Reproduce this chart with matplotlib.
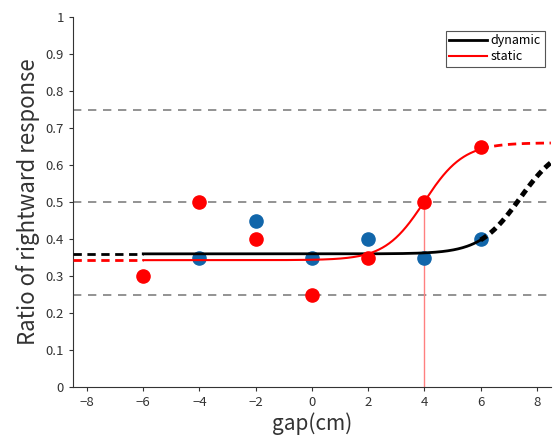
import numpy as np
import matplotlib.pyplot as plt

plt.rcParams['font.family'] = ['Noto Sans CJK JP', 'DejaVu Sans']

# measured points
gap_dyn = [-4, -2, 0, 2, 4, 6]
ratio_dyn = [0.35, 0.45, 0.35, 0.40, 0.35, 0.40]
gap_sta = [-6, -4, -2, 0, 2, 4, 6]
ratio_sta = [0.30, 0.50, 0.40, 0.25, 0.35, 0.50, 0.65]

# fitted logistic params (base, range, mid, scale)
fit_dyn = [0.36, 0.30, 7.4, 0.72]
fit_sta = [0.343, 0.317, 4.0, 0.7]


def logistic(x, p):
    return p[0] + p[1] / (1 + np.exp(-(x - p[2]) / p[3]))


fig = plt.figure(figsize=(5.57, 4.47), dpi=100)
ax = fig.add_axes([0.131, 0.134, 0.858, 0.828])

for yy in [0.25, 0.5, 0.75]:
    ax.axhline(yy, color='gray', ls=(0, (5, 4)), lw=1.2, zorder=1)

ax.plot([4, 4], [0, 0.5], color='#ff8080', lw=1, zorder=1)

x_in = np.linspace(-6, 6, 300)
x_lo = np.linspace(-8.5, -6, 50)
x_hi = np.linspace(6, 8.5, 100)

ax.plot(x_in, logistic(x_in, fit_dyn), color='black', lw=2, label='dynamic', zorder=3)
ax.plot(x_lo, logistic(x_lo, fit_dyn), color='black', lw=2, ls=(0, (3, 2)), zorder=3)
ax.plot(x_hi, logistic(x_hi, fit_dyn), color='black', lw=3.5, ls=(0, (1.5, 1)), zorder=3)

ax.plot(x_in, logistic(x_in, fit_sta), color='red', lw=1.5, label='static', zorder=3)
ax.plot(x_lo, logistic(x_lo, fit_sta), color='red', lw=2, ls=(0, (3, 2)), zorder=3)
ax.plot(x_hi, logistic(x_hi, fit_sta), color='red', lw=2, ls=(0, (3, 2)), zorder=3)

ax.scatter(gap_dyn, ratio_dyn, s=90, color='#1166aa', zorder=2)
ax.scatter(gap_sta, ratio_sta, s=90, color='red', zorder=4)

ax.set_xlim(-8.5, 8.5)
ax.set_ylim(0, 1)
ax.set_xticks(np.arange(-8, 9, 2))
ax.set_yticks(np.arange(0, 1.01, 0.1))
ax.set_yticklabels(['0', '0.1', '0.2', '0.3', '0.4', '0.5', '0.6', '0.7', '0.8', '0.9', '1'])
ax.tick_params(labelsize=9.5, colors='#333333', length=3)
ax.spines['top'].set_visible(False)
ax.spines['right'].set_visible(False)
ax.spines['left'].set_color('#333333')
ax.spines['bottom'].set_color('#333333')

ax.set_xlabel('gap(cm)', fontsize=15, color='#333333', labelpad=2)
ax.set_ylabel('Ratio of rightward response', fontsize=16, color='#333333')

leg = ax.legend(loc='upper right', fontsize=9, fancybox=False, framealpha=1,
                edgecolor='#555555', handlelength=3, borderpad=0.3,
                labelspacing=0.2, handletextpad=0.3, bbox_to_anchor=(1.0, 0.98))
leg.get_frame().set_linewidth(0.8)

fig.savefig('out.png')
